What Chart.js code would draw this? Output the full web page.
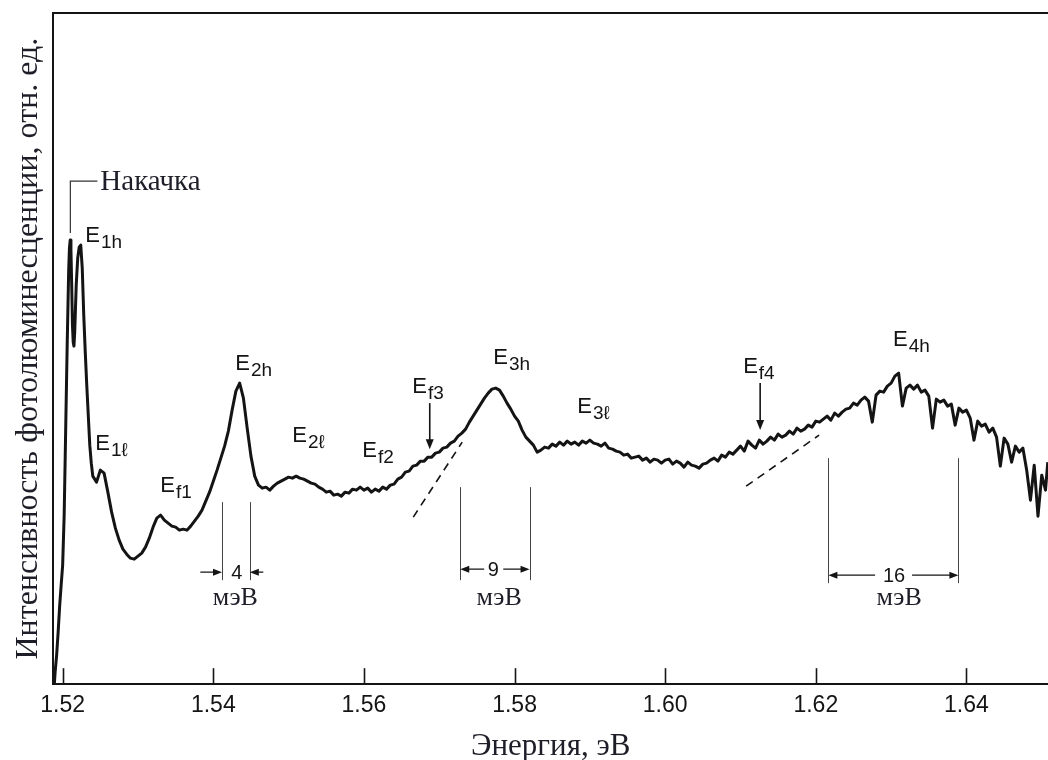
<!DOCTYPE html>
<html><head><meta charset="utf-8">
<script src="https://cdn.jsdelivr.net/npm/chart.js@4.4.1/dist/chart.umd.min.js"></script>
<style>html,body{margin:0;padding:0;background:#fff}#wrap{width:1048px;height:760px}</style>
</head><body><div id="wrap"><canvas id="c" width="1048" height="760"></canvas></div>
<script>
// ---- data (energy in eV, photoluminescence intensity in relative units) ----
const ENERGY_EV = [
 1.5189,1.5190,1.5192,1.5194,1.5196,1.5198,1.5200,1.5202,1.5204,1.5206,
 1.5208,1.5209,1.5210,1.5211,1.5212,1.5213,1.5214,1.5215,1.5216,1.5218,
 1.5220,1.5222,1.5224,1.5226,1.5228,1.5230,1.5232,1.5234,1.5236,1.5238,1.5240,
 1.5245,1.5250,1.5255,1.5260,1.5265,1.5270,1.5275,1.5280,1.5285,1.5290,
 1.5295,1.5300,1.5305,1.5310,1.5315,1.5320,1.5325,1.5330,1.5335,1.5340,
 1.5345,1.5350,1.5355,1.5360,1.5365,1.5370,1.5375,1.5380,1.5385,1.5390,
 1.5395,1.5400,1.5405,1.5410,1.5415,1.5420,1.5425,1.5430,1.5435,1.5440,
 1.5445,1.5450,1.5455,1.5460,1.5465,1.5470,1.5475,1.5480,1.5485,1.5490,
 1.5495,1.5500,1.5505,1.5510,1.5515,1.5520,1.5525,1.5530,1.5535,1.5540,
 1.5545,1.5550,1.5555,1.5560,1.5565,1.5570,1.5575,1.5580,1.5585,1.5590,
 1.5595,1.5600,1.5605,1.5610,1.5615,1.5620,1.5625,1.5630,1.5635,1.5640,
 1.5645,1.5650,1.5655,1.5660,1.5665,1.5670,1.5675,1.5680,1.5685,1.5690,
 1.5695,1.5700,1.5705,1.5710,1.5715,1.5720,1.5725,1.5730,1.5735,1.5740,
 1.5745,1.5750,1.5755,1.5760,1.5765,1.5770,1.5775,1.5780,1.5785,1.5790,
 1.5795,1.5800,1.5805,1.5810,1.5815,1.5820,1.5825,1.5830,1.5835,1.5840,
 1.5845,1.5850,1.5855,1.5860,1.5865,1.5870,1.5875,1.5880,1.5885,1.5890,
 1.5895,1.5900,1.5905,1.5910,1.5915,1.5920,1.5925,1.5930,1.5935,1.5940,
 1.5945,1.5950,1.5955,1.5960,1.5965,1.5970,1.5975,1.5980,1.5985,1.5990,
 1.5995,1.6000,1.6005,1.6010,1.6015,1.6020,1.6025,1.6030,1.6035,1.6040,
 1.6045,1.6050,1.6055,1.6060,1.6065,1.6070,1.6075,1.6080,1.6085,1.6090,
 1.6095,1.6100,1.6105,1.6110,1.6115,1.6120,1.6125,1.6130,1.6135,1.6140,
 1.6145,1.6150,1.6155,1.6160,1.6165,1.6170,1.6175,1.6180,1.6185,1.6190,
 1.6195,1.6200,1.6205,1.6210,1.6215,1.6220,1.6225,1.6230,1.6235,1.6240,
 1.6245,1.6250,1.6255,1.6260,1.6265,1.6270,1.6275,1.6280,1.6285,1.6290,
 1.6295,1.6300,1.6305,1.6310,1.6315,1.6320,1.6325,1.6330,1.6335,1.6340,
 1.6345,1.6350,1.6355,1.6360,1.6365,1.6370,1.6375,1.6380,1.6385,1.6390,
 1.6395,1.6400,1.6405,1.6410,1.6415,1.6420,1.6425,1.6430,1.6435,1.6440,
 1.6445,1.6450,1.6455,1.6460,1.6465,1.6470,1.6475,1.6480,1.6485,1.6490,
 1.6495,1.6500,1.6505,1.6508
];
const INTENSITY = [
 1,12,29,52,78,99,119,169,254,339,
 414,436,444,434,399,359,342,338,352,399,
 426,437,439,416,369,332,299,269,239,221,208,
 202,214,211,192,172,156,144,135,130,126,
 125,128,131,137,146,157,166,169,164,161,
 158,157,154,155,154,158,163,168,174,183,
 192,203,214,226,238,253,274,293,301,286,
 256,228,208,199,196,197,194,198,201,203,
 205,207,206,208,206,205,203,201,200,197,
 195,192,193,189,190,188,192,191,195,194,
 197,194,196,192,195,193,197,195,199,200,
 205,207,212,213,218,219,223,223,227,227,
 231,232,236,237,241,243,248,251,255,262,
 268,274,280,286,291,295,296,294,288,281,
 275,268,263,254,247,243,239,232,234,237,
 236,240,238,242,239,243,240,242,239,243,
 241,244,241,240,238,241,236,235,233,232,
 229,230,226,227,228,224,226,222,225,224,
 221,224,225,220,223,221,217,222,219,218,
 216,220,221,224,226,223,229,227,232,230,
 234,238,233,243,239,236,244,240,243,247,
 244,250,247,249,253,250,256,253,255,259,
 257,263,262,265,268,264,271,268,272,275,
 276,281,279,284,287,283,262,289,293,292,
 298,301,308,311,278,296,299,295,299,292,
 294,288,256,285,282,284,278,280,259,276,
 272,274,266,244,263,258,260,252,256,247,
 218,246,240,222,238,232,236,214,184,219,
 168,209,194,222
];
const X_TICKS = [1.52, 1.54, 1.56, 1.58, 1.60, 1.62, 1.64];
const X_MIN = 1.51877, X_MAX = 1.65083;
const Y_MIN = 0, Y_MAX = 671;

const X_TITLE = 'Энергия, эВ';
const Y_TITLE = 'Интенсивность фотолюминесценции, отн. ед.';

// peak labels: E with subscript; anchor = left edge / baseline of "E" in data units
const PEAK_LABELS = [
 {sub:'1h', e:1.52301, i:442},
 {sub:'1ℓ', e:1.52434, i:234},
 {sub:'f1', e:1.53297, i:192},
 {sub:'2h', e:1.54292, i:314},
 {sub:'2ℓ', e:1.55049, i:242},
 {sub:'f2', e:1.55978, i:227},
 {sub:'f3', e:1.56642, i:291},
 {sub:'3h', e:1.57717, i:320},
 {sub:'3ℓ', e:1.58832, i:271},
 {sub:'f4', e:1.61035, i:311},
 {sub:'4h', e:1.63026, i:338}
];
const PUMP = {text:'Накачка', e:1.52102, iLow:451, iHigh:503, eEnd:1.52461, eText:1.52500};
const DOWN_ARROWS = [
 {e:1.56874, from:281, to:235},
 {e:1.61261, from:301, to:254}
];
const DASHED_TANGENTS = [
 {e1:1.56655, i1:167, e2:1.57305, i2:242},
 {e1:1.61075, i1:198, e2:1.62044, i2:249}
];
// linewidth markers (meV)
const WIDTH_MARKS = [
 {label:'4',  left:1.54116, right:1.54485, top:182, bottom:104, arrowI:112, inward:true,
  outerL:1.53828, outerR:1.54664, labelE:1.54312, unitE:1.54292},
 {label:'9',  left:1.57279, right:1.58199, top:197, bottom:104, arrowI:115, inward:false,
  innerL:1.57597, innerR:1.57850, labelE:1.57717, unitE:1.57796},
 {label:'16', left:1.62167, right:1.63893, top:226, bottom:101, arrowI:109, inward:false,
  innerL:1.62787, innerR:1.63278, labelE:1.63039, unitE:1.63106}
];
const UNIT_TEXT = 'мэВ';
const UNIT_I = 86;

const points = ENERGY_EV.map((e, k) => ({x: e, y: INTENSITY[k]}));

const SERIF = '"Liberation Serif", "DejaVu Serif", serif';
const SANS = '"Liberation Sans", Arial, sans-serif';
const INK = '#141414';
const TXT = '#1e1e28';

function arrowHead(ctx, x, y, dx, dy, len, half) {
  const n = Math.hypot(dx, dy); const ux = dx / n, uy = dy / n;
  ctx.beginPath();
  ctx.moveTo(x, y);
  ctx.lineTo(x - ux * len - uy * half, y - uy * len + ux * half);
  ctx.lineTo(x - ux * len + uy * half, y - uy * len - ux * half);
  ctx.closePath(); ctx.fill();
}

const annotations = {
  id: 'annotations',
  afterDatasetsDraw(chart) {
    const {ctx, chartArea: a, scales: {x, y}} = chart;
    const X = v => x.getPixelForValue(v), Y = v => y.getPixelForValue(v);
    ctx.save();
    ctx.strokeStyle = INK; ctx.fillStyle = INK;
    // top frame line
    ctx.lineWidth = 2;
    ctx.beginPath(); ctx.moveTo(a.left, a.top); ctx.lineTo(a.right, a.top); ctx.stroke();
    // inward tick marks
    ctx.lineWidth = 1.6;
    X_TICKS.forEach(v => {
      const px = Math.round(X(v)) + 0.5;
      ctx.beginPath(); ctx.moveTo(px, a.bottom); ctx.lineTo(px, a.bottom - 16); ctx.stroke();
    });
    // pump bracket
    ctx.lineWidth = 1.2; ctx.strokeStyle = '#333';
    ctx.beginPath();
    ctx.moveTo(X(PUMP.e), Y(PUMP.iLow)); ctx.lineTo(X(PUMP.e), Y(PUMP.iHigh)); ctx.lineTo(X(PUMP.eEnd), Y(PUMP.iHigh));
    ctx.stroke();
    ctx.fillStyle = TXT; ctx.font = '29px ' + SERIF; ctx.textAlign = 'left'; ctx.textBaseline = 'middle';
    ctx.fillText(PUMP.text, X(PUMP.eText), Y(PUMP.iHigh) + 1);
    // peak labels
    ctx.fillStyle = INK; ctx.textBaseline = 'alphabetic';
    PEAK_LABELS.forEach(p => {
      const px = X(p.e), py = Y(p.i);
      ctx.font = '22px ' + SANS; ctx.fillText('E', px, py);
      const w = ctx.measureText('E').width;
      ctx.font = '19px ' + SANS; ctx.fillText(p.sub, px + w + 1, py + 6);
    });
    // down arrows
    ctx.lineWidth = 1.6; ctx.strokeStyle = INK;
    DOWN_ARROWS.forEach(d => {
      const px = X(d.e);
      ctx.beginPath(); ctx.moveTo(px, Y(d.from)); ctx.lineTo(px, Y(d.to) - 6); ctx.stroke();
      arrowHead(ctx, px, Y(d.to), 0, 1, 10, 4);
    });
    // dashed tangents
    ctx.setLineDash([8, 6]); ctx.lineWidth = 1.6;
    DASHED_TANGENTS.forEach(t => {
      ctx.beginPath(); ctx.moveTo(X(t.e1), Y(t.i1)); ctx.lineTo(X(t.e2), Y(t.i2)); ctx.stroke();
    });
    ctx.setLineDash([]);
    // width markers
    WIDTH_MARKS.forEach(m => {
      const xl = X(m.left), xr = X(m.right), ya = Y(m.arrowI);
      ctx.strokeStyle = '#444'; ctx.lineWidth = 1;
      ctx.beginPath();
      ctx.moveTo(Math.round(xl) + 0.5, Y(m.top)); ctx.lineTo(Math.round(xl) + 0.5, Y(m.bottom));
      ctx.moveTo(Math.round(xr) + 0.5, Y(m.top)); ctx.lineTo(Math.round(xr) + 0.5, Y(m.bottom));
      ctx.stroke();
      ctx.strokeStyle = INK; ctx.fillStyle = INK; ctx.lineWidth = 1.4;
      if (m.inward) {
        const ol = X(m.outerL), or = X(m.outerR);
        ctx.beginPath(); ctx.moveTo(ol, ya); ctx.lineTo(xl - 6, ya); ctx.moveTo(or, ya); ctx.lineTo(xr + 6, ya); ctx.stroke();
        arrowHead(ctx, xl, ya, 1, 0, 9, 3.5);
        arrowHead(ctx, xr, ya, -1, 0, 9, 3.5);
      } else {
        const il = X(m.innerL), ir = X(m.innerR);
        ctx.beginPath(); ctx.moveTo(xl + 6, ya); ctx.lineTo(il, ya); ctx.moveTo(ir, ya); ctx.lineTo(xr - 6, ya); ctx.stroke();
        arrowHead(ctx, xl, ya, -1, 0, 9, 3.5);
        arrowHead(ctx, xr, ya, 1, 0, 9, 3.5);
      }
      ctx.font = '20px ' + SANS; ctx.textAlign = 'center'; ctx.textBaseline = 'middle';
      ctx.fillText(m.label, X(m.labelE), ya + 1);
      ctx.fillStyle = TXT; ctx.font = '26px ' + SERIF;
      ctx.fillText(UNIT_TEXT, X(m.unitE), Y(UNIT_I));
    });
    ctx.restore();
  }
};

new Chart(document.getElementById('c'), {
  type: 'line',
  data: { datasets: [{
    label: 'PL',
    data: points,
    borderColor: INK,
    borderWidth: 3,
    pointRadius: 0,
    tension: 0,
    borderJoinStyle: 'round',
    fill: false
  }]},
  options: {
    responsive: false,
    animation: false,
    devicePixelRatio: 1,
    layout: { padding: { top: 13, right: 0, bottom: 0, left: 0 } },
    plugins: { legend: { display: false }, tooltip: { enabled: false } },
    scales: {
      x: {
        type: 'linear', min: X_MIN, max: X_MAX,
        afterBuildTicks: s => { s.ticks = X_TICKS.map(v => ({value: v})); },
        grid: { display: false, drawTicks: false },
        border: { display: true, color: INK, width: 2 },
        ticks: { padding: 8, color: INK, font: { family: SANS, size: 23 },
                 callback: v => Number(v).toFixed(2), maxRotation: 0, autoSkip: false },
        title: { display: true, text: X_TITLE, color: TXT, font: { family: SERIF, size: 31 },
                 padding: { top: 0, bottom: -5 } }
      },
      y: {
        type: 'linear', min: Y_MIN, max: Y_MAX,
        grid: { display: false, drawTicks: false },
        border: { display: true, color: INK, width: 2 },
        ticks: { display: false },
        title: { display: true, text: Y_TITLE, color: TXT, font: { family: SERIF, size: 32 },
                 padding: { top: 9, bottom: 6 } }
      }
    }
  },
  plugins: [annotations]
});
</script></body></html>
